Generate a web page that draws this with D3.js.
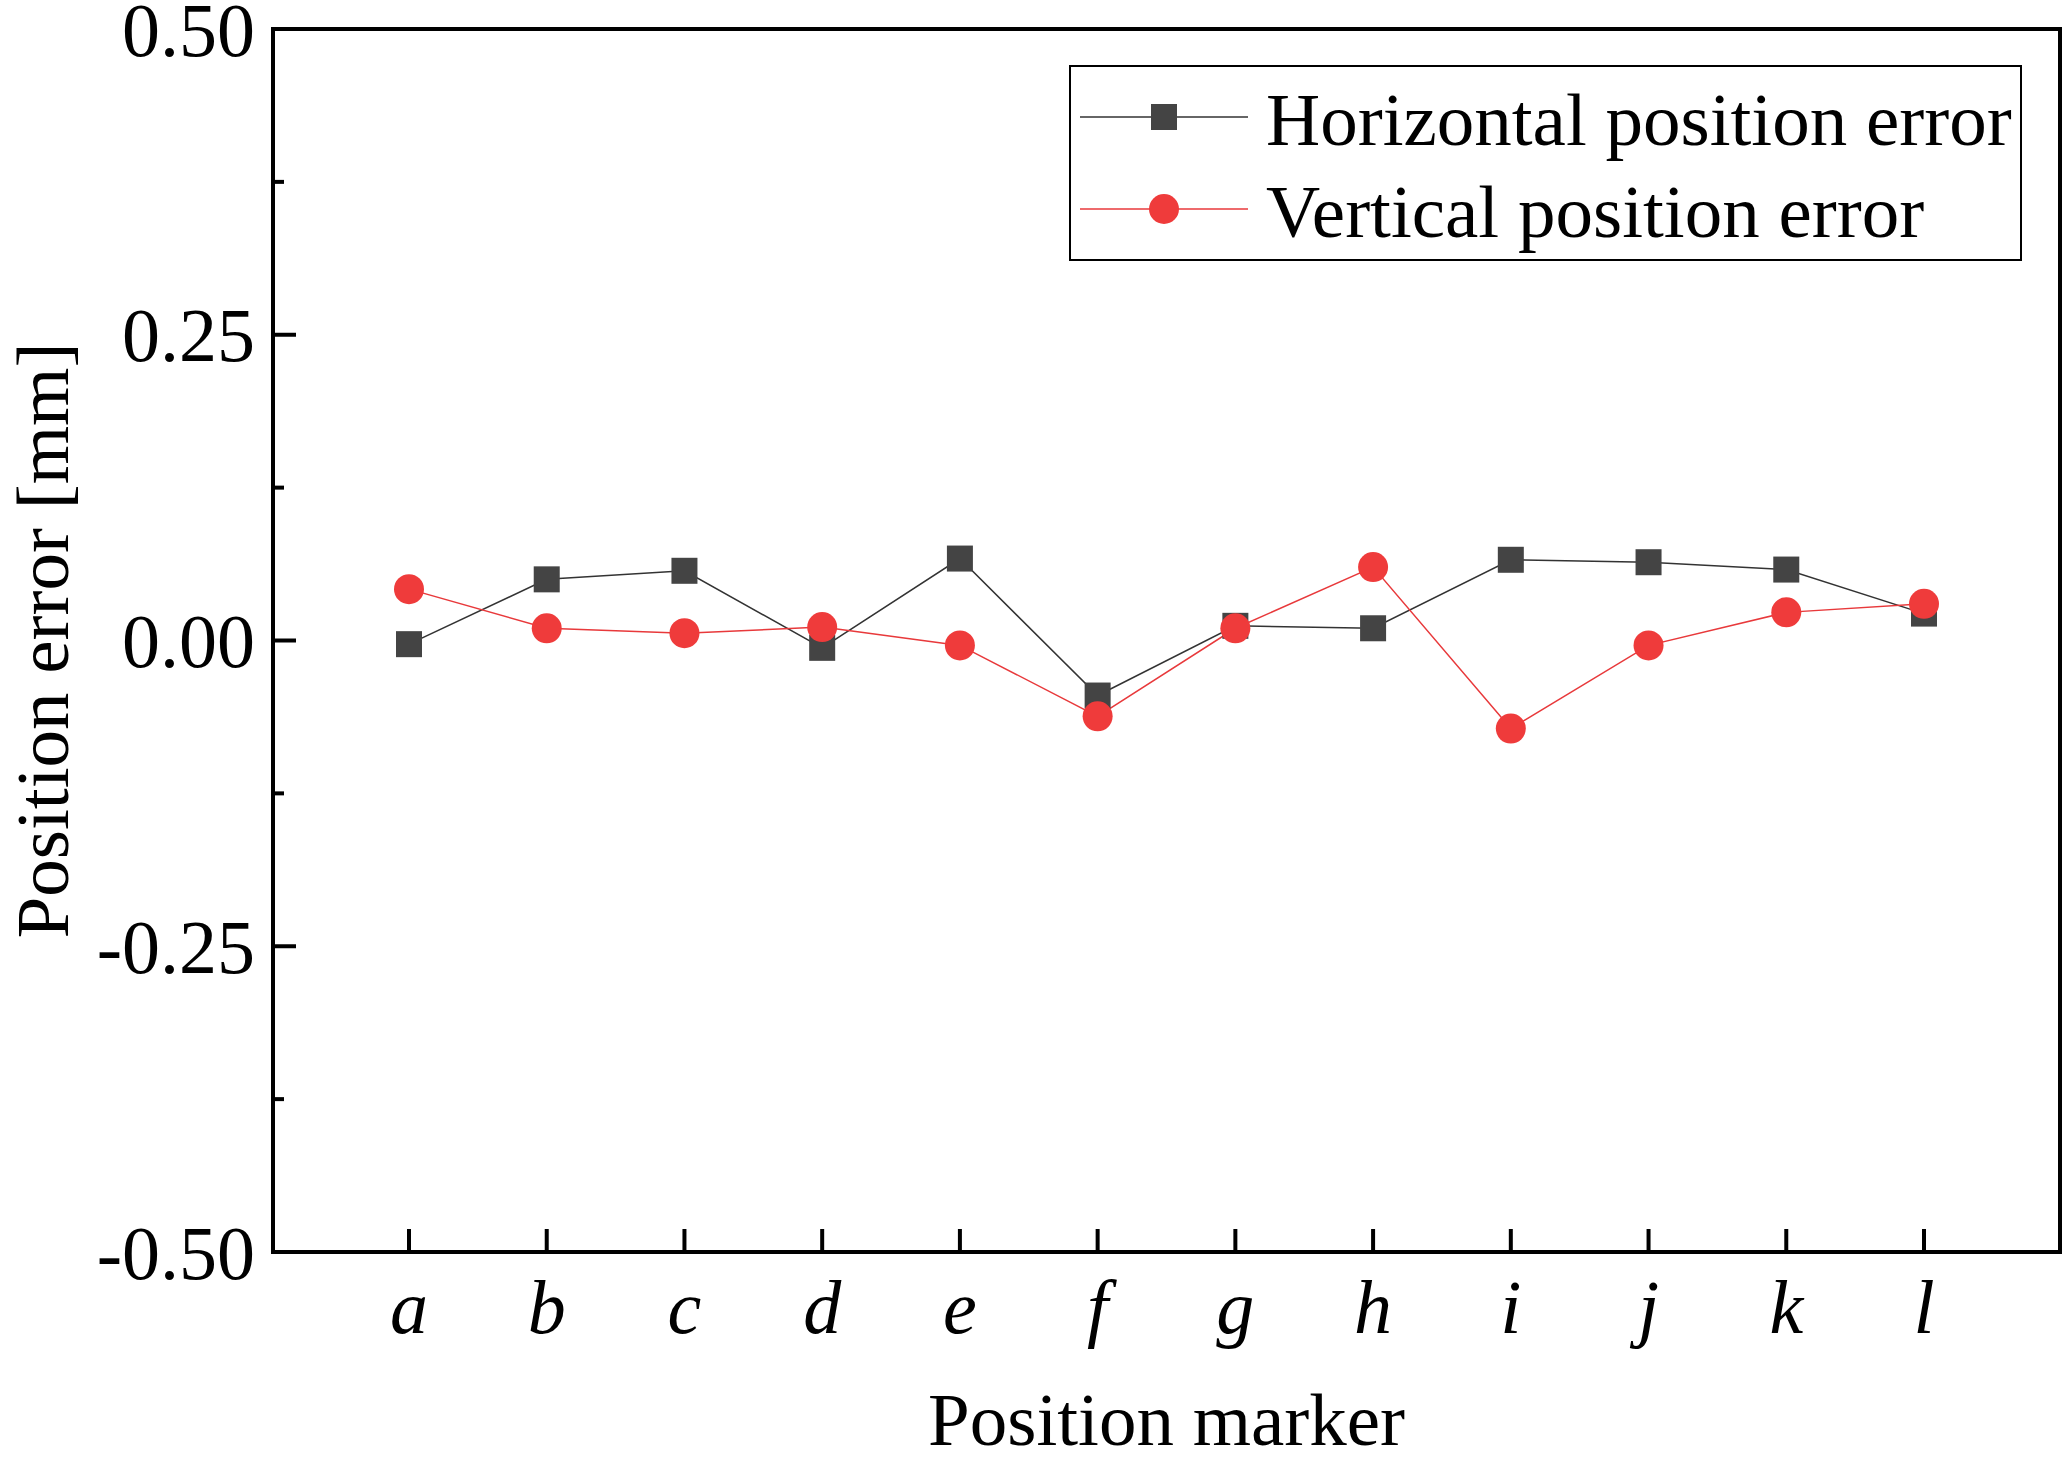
<!DOCTYPE html>
<html><head><meta charset="utf-8">
<script src="https://cdn.jsdelivr.net/npm/d3@7"></script>
<style>body{margin:0;background:#fff}</style></head>
<body><svg id="c" width="2067" height="1457"></svg>
<script>
const categories=["a","b","c","d","e","f","g","h","i","j","k","l"];
const horizontal=[-0.003,0.050,0.057,-0.006,0.067,-0.045,0.012,0.010,0.066,0.064,0.058,0.022];
const vertical=[0.042,0.010,0.006,0.011,-0.004,-0.062,0.010,0.060,-0.072,-0.004,0.023,0.030];
const yTicks=[-0.5,-0.25,0,0.25,0.5];
const yMinor=[-0.375,-0.125,0.125,0.375];

const svg=d3.select("#c");
const L=273,R=2060,T=29,B=1252;
const x=d3.scalePoint().domain(categories).range([409,1924]);
const y=d3.scaleLinear().domain([-0.5,0.5]).range([B,T]);
const font="Liberation Serif, Times New Roman, serif";
const ax=svg.append("g");
ax.append("rect").attr("x",L).attr("y",T).attr("width",R-L).attr("height",B-T).attr("fill","none").attr("stroke","#000").attr("stroke-width",4);
yTicks.forEach(v=>{
  ax.append("line").attr("x1",L).attr("x2",L+23).attr("y1",y(v)).attr("y2",y(v)).attr("stroke","#000").attr("stroke-width",4);
  ax.append("text").attr("x",L-18).attr("y",y(v)).attr("dy","0.35em").attr("text-anchor","end")
    .attr("font-family",font).attr("font-size",76).text(d3.format(".2f")(v).replace("\u2212","-"));
});
yMinor.forEach(v=>ax.append("line").attr("x1",L).attr("x2",L+11).attr("y1",y(v)).attr("y2",y(v)).attr("stroke","#000").attr("stroke-width",4));
categories.forEach(c=>{
  ax.append("line").attr("x1",x(c)).attr("x2",x(c)).attr("y1",B).attr("y2",B-23).attr("stroke","#000").attr("stroke-width",4);
  ax.append("text").attr("x",x(c)).attr("y",1333).attr("text-anchor","middle").attr("font-style","italic")
    .attr("font-family",font).attr("font-size",76).text(c);
});
svg.append("text").attr("x",(L+R)/2).attr("y",1445).attr("text-anchor","middle").attr("font-family",font).attr("font-size",75).text("Position marker");
svg.append("text").attr("transform",`translate(68,${(T+B)/2}) rotate(-90)`).attr("text-anchor","middle").attr("font-family",font).attr("font-size",75).text("Position error [mm]");

const line=d3.line().x((d,i)=>x(categories[i])).y(d=>y(d));
svg.append("path").datum(horizontal).attr("d",line).attr("fill","none").attr("stroke","#333").attr("stroke-width",1.5);
svg.append("path").datum(vertical).attr("d",line).attr("fill","none").attr("stroke","#e8393b").attr("stroke-width",1.5);
svg.selectAll(".sq").data(horizontal).enter().append("rect").attr("x",(d,i)=>x(categories[i])-13).attr("y",d=>y(d)-13).attr("width",26).attr("height",26).attr("fill","#444");
svg.selectAll(".ci").data(vertical).enter().append("circle").attr("cx",(d,i)=>x(categories[i])).attr("cy",d=>y(d)).attr("r",15).attr("fill","#ef3b3b");

const lg=svg.append("g");
lg.append("rect").attr("x",1070).attr("y",66).attr("width",951).attr("height",194).attr("fill","#fff").attr("stroke","#000").attr("stroke-width",2);
lg.append("line").attr("x1",1080).attr("x2",1248).attr("y1",117).attr("y2",117).attr("stroke","#333").attr("stroke-width",1.5);
lg.append("rect").attr("x",1151).attr("y",104).attr("width",26).attr("height",26).attr("fill","#444");
lg.append("line").attr("x1",1080).attr("x2",1248).attr("y1",209).attr("y2",209).attr("stroke","#e8393b").attr("stroke-width",1.5);
lg.append("circle").attr("cx",1164).attr("cy",209).attr("r",15).attr("fill","#ef3b3b");
lg.append("text").attr("x",1266).attr("y",119).attr("dy","0.35em").attr("font-family",font).attr("font-size",75).text("Horizontal position error");
lg.append("text").attr("x",1266).attr("y",211).attr("dy","0.35em").attr("font-family",font).attr("font-size",75).text("Vertical position error");
</script></body></html>
